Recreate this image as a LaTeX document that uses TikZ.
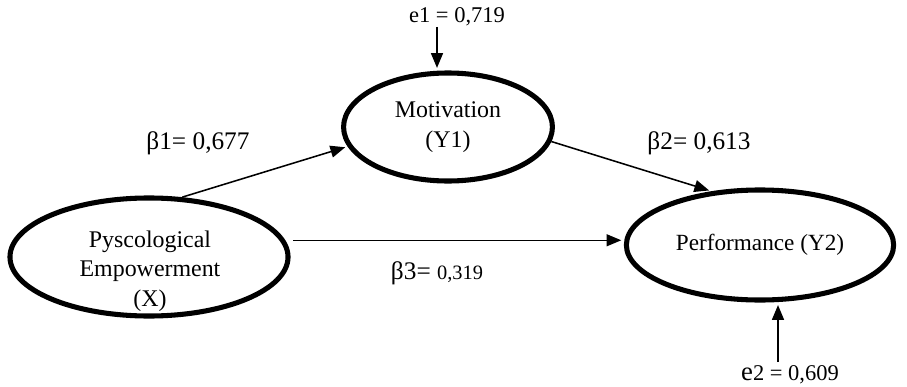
\documentclass[tikz,border=0pt]{standalone}
\usepackage{fontspec}
\setmainfont{Liberation Serif}
\usetikzlibrary{shapes.geometric,arrows.meta}

\begin{document}
\begin{tikzpicture}[
  x=0.025cm, y=-0.025cm,
  latent/.style={draw, ellipse, line width=3.6pt, inner sep=0pt, align=center, font=\fontsize{17}{21}\selectfont},
  txt/.style={align=center, font=\fontsize{17}{21}\selectfont},
  coef/.style={font=\fontsize{18}{22}\selectfont},
  err/.style={font=\fontsize{16}{19}\selectfont},
  solidarrow/.style={-{Triangle[length=10.5pt,width=8.5pt]}, line width=1.1pt, shorten >=1.8pt}
]
\useasboundingbox (0,0) rectangle (907,387);

\node[latent, minimum width=6.95cm, minimum height=2.95cm] (X) at (149,257) {};
\node[txt] (Xtext) at (150,271) {Pyscological\\Empowerment\\(X)};
\node[latent, minimum width=5.22cm, minimum height=2.7cm] (Y1) at (448,127) {Motivation\\(Y1)};
\node[latent, minimum width=6.68cm, minimum height=2.75cm, font=\fontsize{16.5}{20}\selectfont] (Y2) at (760,245) {Performance (Y2)};

\node[err] (e1) at (457,17) {e1 = 0,719};
\node[err] (e2) at (790,375) {{\fontsize{19}{22}\selectfont e}2 = 0,609};
\node[coef] (b1) at (198,143) {β1= 0,677};
\node[coef] (b2) at (699,143) {β2= 0,613};
\node[coef] (b3) at (437,273) {β3= {\fontsize{14.5}{17}\selectfont 0,319}};

\coordinate (e1top) at (437,27);
\coordinate (e2bot) at (778,362);

\draw[solidarrow] (X.61) -- (Y1.191);
\draw[solidarrow] (Y1.-8) -- (Y2.132);
\draw[solidarrow] ([xshift=0.2cm]X.7) -- (X.7 -| Y2.west);
\draw[solidarrow] (e1top) -- (e1top |- Y1.north);
\draw[solidarrow] (e2bot) -- (e2bot |- Y2.south);
\end{tikzpicture}
\end{document}
